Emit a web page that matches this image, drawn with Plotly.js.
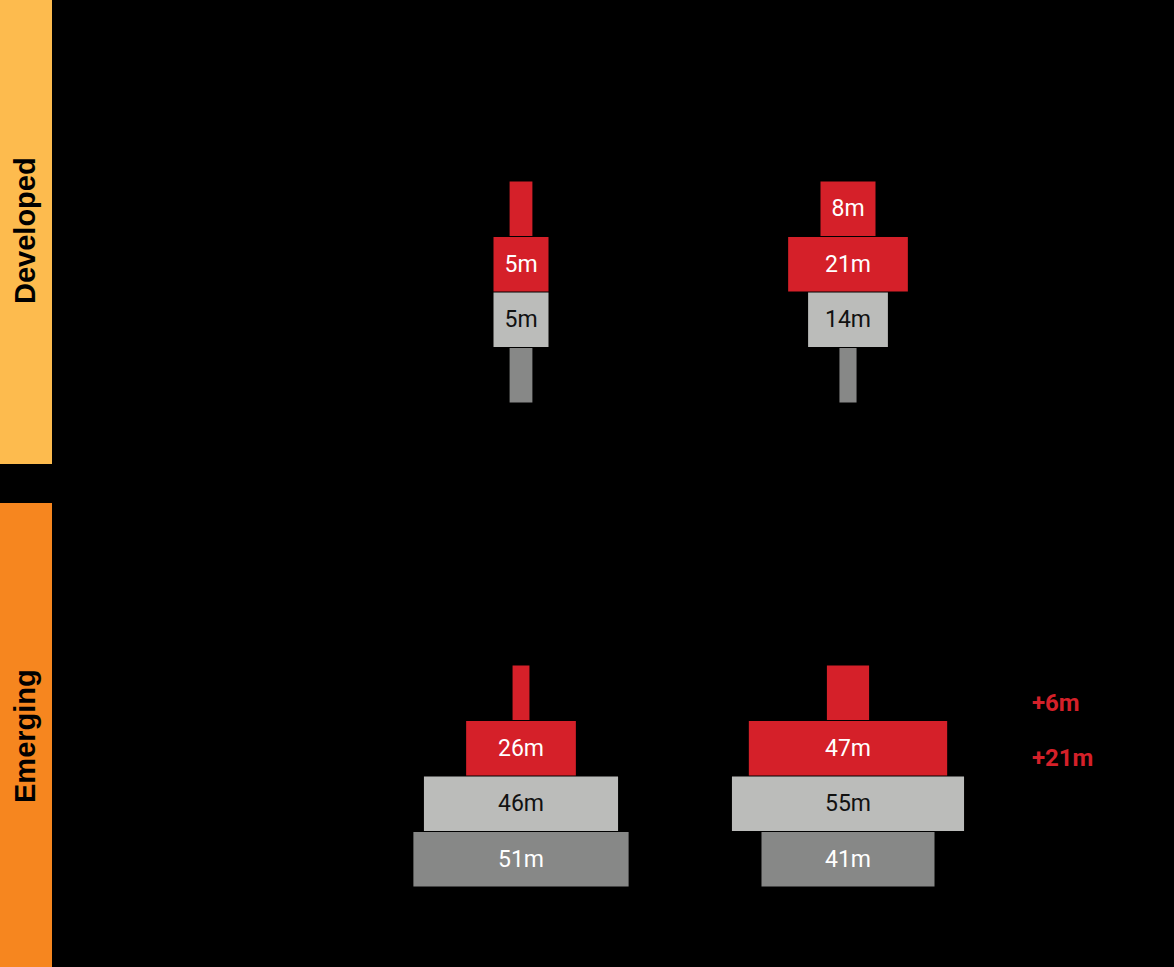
<!DOCTYPE html>
<html>
<head>
<meta charset="utf-8">
<script src="https://cdn.plot.ly/plotly-3.0.1.min.js"></script>
<style>html,body{margin:0;padding:0;background:#000;}#chart{width:1174px;height:967px;}</style>
</head>
<body>
<div id="chart"></div>
<script>
// ---- data ----
const tiers = ['Tier 1', 'Tier 2', 'Tier 3', 'Tier 4'];
const groups = ['Developed', 'Emerging'];
const developedA = [4, 5, 5, 4];
const developedB = [8, 21, 14, 3];
const emergingA = [4, 26, 46, 51];
const emergingB = [10, 47, 55, 41];
const labelsDevA = ['', '5m', '5m', ''];
const labelsDevB = ['8m', '21m', '14m', ''];
const labelsEmA = ['', '26m', '46m', '51m'];
const labelsEmB = ['', '47m', '55m', '41m'];

// ---- style ----
const W = 1174, H = 967;
const RED = '#D52029', LGRAY = '#BBBCBA', DGRAY = '#878887';
const tierColors = [RED, RED, LGRAY, DGRAY];
const tierText = ['#ffffff', '#ffffff', '#111111', '#ffffff'];
const HALF = 150; // px half-width of each column area
const pxPerUnitDev = 5.7, pxPerUnitEm = 4.22;
const MIN_LABEL_PX = 55;

function dom(c) { return [(c - HALF) / W, (c + HALF) / W]; }
function widths(vals, labels, ppu) {
  return vals.map((v, i) => labels[i] ? Math.max(v, MIN_LABEL_PX / ppu) : v);
}
function trace(vals, labels, ppu, xa, ya, name) {
  const w = widths(vals, labels, ppu);
  return {
    type: 'bar', orientation: 'h', name: name,
    y: tiers, x: w, base: w.map(v => -v / 2),
    xaxis: xa, yaxis: ya, width: 0.985,
    marker: {color: tierColors, line: {width: 0}},
    text: labels, textposition: 'inside', insidetextanchor: 'middle', textangle: 0,
    textfont: {family: 'Roboto, sans-serif', size: 23, color: tierText},
    customdata: vals, hoverinfo: 'none', showlegend: false
  };
}

const data = [
  trace(developedA, labelsDevA, pxPerUnitDev, 'x', 'y', 'Developed A'),
  trace(developedB, labelsDevB, pxPerUnitDev, 'x2', 'y', 'Developed B'),
  trace(emergingA, labelsEmA, pxPerUnitEm, 'x3', 'y2', 'Emerging A'),
  trace(emergingB, labelsEmB, pxPerUnitEm, 'x4', 'y2', 'Emerging B')
];

const hidden = {showgrid: false, zeroline: false, showticklabels: false, ticks: '', showline: false, fixedrange: true};
const rDev = HALF / pxPerUnitDev, rEm = HALF / pxPerUnitEm;

const diffAnn = [0, 1].map(i => {
  const d = emergingB[i] - emergingA[i];
  return {
    xref: 'paper', yref: 'y2', x: 1030 / W, y: tiers[i], yshift: -10,
    text: '+' + d + 'm', showarrow: false, xanchor: 'left', yanchor: 'middle',
    font: {family: 'Roboto, sans-serif', size: 24, color: RED, weight: 'bold'}
  };
});

const layout = {
  width: W, height: H,
  margin: {l: 0, r: 0, t: 0, b: 0, pad: 0},
  paper_bgcolor: '#000000', plot_bgcolor: 'rgba(0,0,0,0)',
  barmode: 'overlay',
  xaxis: Object.assign({domain: dom(521), range: [-rDev, rDev], anchor: 'y'}, hidden),
  xaxis2: Object.assign({domain: dom(848), range: [-rDev, rDev], anchor: 'y'}, hidden),
  xaxis3: Object.assign({domain: dom(521), range: [-rEm, rEm], anchor: 'y2'}, hidden),
  xaxis4: Object.assign({domain: dom(848), range: [-rEm, rEm], anchor: 'y2'}, hidden),
  yaxis: Object.assign({domain: [1 - 403 / H, 1 - 181 / H], range: [3.5, -0.5], type: 'category', anchor: 'x'}, hidden),
  yaxis2: Object.assign({domain: [1 - 887 / H, 1 - 665 / H], range: [3.5, -0.5], type: 'category', anchor: 'x3'}, hidden),
  shapes: [
    {type: 'rect', xref: 'paper', yref: 'paper', x0: 0, x1: 52 / W, y0: 1 - 464 / H, y1: 1, fillcolor: '#FDBB4E', line: {width: 0}, layer: 'below'},
    {type: 'rect', xref: 'paper', yref: 'paper', x0: 0, x1: 52 / W, y0: 0, y1: 1 - 503 / H, fillcolor: '#F6861F', line: {width: 0}, layer: 'below'}
  ],
  annotations: [
    {xref: 'paper', yref: 'paper', x: 25 / W, y: 1 - 231 / H, text: groups[0], textangle: -90, showarrow: false,
     xanchor: 'center', yanchor: 'middle', font: {family: 'Liberation Sans, Arial, sans-serif', size: 29, color: '#000', weight: 'bold'}},
    {xref: 'paper', yref: 'paper', x: 25 / W, y: 1 - 736 / H, text: groups[1], textangle: -90, showarrow: false,
     xanchor: 'center', yanchor: 'middle', font: {family: 'Liberation Sans, Arial, sans-serif', size: 29, color: '#000', weight: 'bold'}}
  ].concat(diffAnn)
};

Plotly.newPlot('chart', data, layout, {displayModeBar: false, staticPlot: true});
</script>
</body>
</html>
